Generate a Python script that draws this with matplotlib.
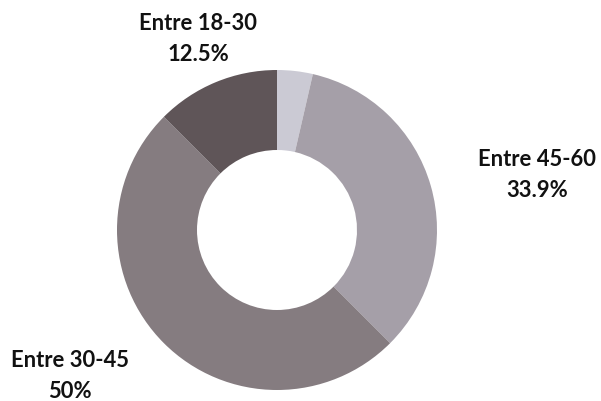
import matplotlib.pyplot as plt

# datos del grafico
labels = ['', 'Entre 45-60', 'Entre 30-45', 'Entre 18-30']
values = [3.6, 33.9, 50, 12.5]
pct_text = ['', '33.9%', '50%', '12.5%']
colors = ['#cbcad4', '#a59fa8', '#857c80', '#5f5558']

# posiciones de las etiquetas (pixeles desde arriba)
label_pos = [None, (537, 175), (70, 376), (198, 39)]

H = 401
fig = plt.figure(figsize=(6.01, 4.01), dpi=100)
ax = fig.add_axes([0, 0, 1, 1])

wedges, _ = ax.pie(values, colors=colors, startangle=90, counterclock=False,
                   center=(277, H - 230), radius=160,
                   wedgeprops=dict(width=80, linewidth=0))

for lab, pct, pos in zip(labels, pct_text, label_pos):
    if pos is None:
        continue
    ax.text(pos[0], H - pos[1], f'{lab}\n{pct}', ha='center', va='center',
            fontsize=15.8, fontweight='bold', family='Lato', color='#111111',
            linespacing=1.6)

ax.set_xlim(0, 601)
ax.set_ylim(0, H)
ax.set_aspect('equal')
ax.axis('off')

fig.savefig('out.png', dpi=100)
